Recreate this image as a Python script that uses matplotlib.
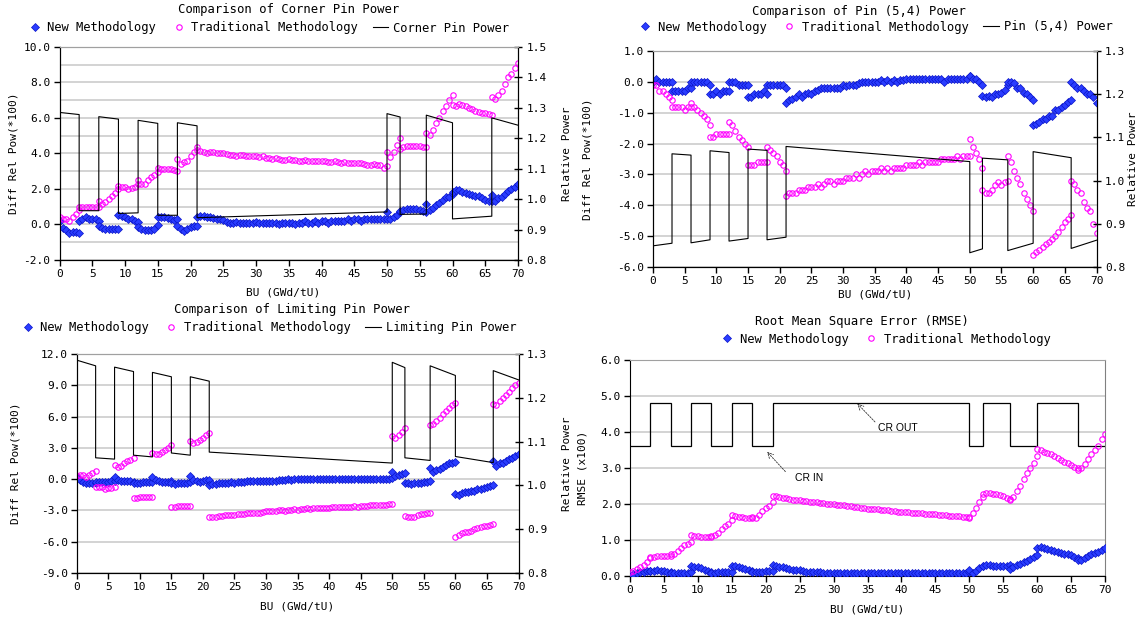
import numpy as np
import matplotlib
matplotlib.use('Agg')
import matplotlib.pyplot as plt
from matplotlib.ticker import MultipleLocator, FormatStrFormatter

plt.rcParams['font.family'] = ['DejaVu Sans Mono']

# burnup segments (control rod moves at each edge)
SEG = [0, 3, 6, 9, 12, 15, 18, 21, 50, 52, 56, 60, 66, 70]
# relative power lines: start / end of every segment
PW_BU = [0, 3, 3, 6, 6, 9, 9, 12, 12, 15, 15, 18, 18, 21, 21, 50,
         50, 52, 52, 56, 56, 60, 60, 66, 66, 70]

# ---- Comparison of Corner Pin Power ----
corner_new = [
    [0.2, -0.2, -0.3, -0.5, -0.4, -0.45, -0.5],
    [0.2, 0.3, 0.4, 0.3, 0.3, 0.3, 0.2],
    [-0.1, -0.2, -0.25, -0.25, -0.25, -0.25, -0.25],
    [0.55, 0.5, 0.4, 0.3, 0.3, 0.2, 0.15],
    [-0.15, -0.25, -0.3, -0.3, -0.3, -0.25, -0.05],
    [0.4, 0.4, 0.4, 0.35, 0.3, 0.25, 0.3],
    [-0.1, -0.25, -0.35, -0.25, -0.15, -0.1, -0.1],
    [0.4, 0.5, 0.5, 0.4, 0.4, 0.35, 0.3, 0.3, 0.25, 0.15,
     0.1, 0.1, 0.15, 0.1, 0.1, 0.1, 0.1, 0.1, 0.15, 0.1,
     0.1, 0.1, 0.1, 0.1, 0.1, 0.0, 0.1, 0.1, 0.1, 0.1,
     0.0, 0.1, 0.1, 0.2, 0.1, 0.1, 0.2, 0.1, 0.2, 0.2,
     0.1, 0.2, 0.2, 0.2, 0.2, 0.2, 0.3, 0.2, 0.3, 0.3,
     0.2, 0.3, 0.3, 0.3, 0.3, 0.3, 0.3, 0.3, 0.3],
    [0.7, 0.3, 0.4, 0.55, 0.7],
    [0.75, 0.8, 0.85, 0.9, 0.9, 0.85, 0.8, 0.75, 0.7],
    [1.15, 0.8, 0.95, 1.1, 1.2, 1.4, 1.55, 1.55, 1.7],
    [1.85, 1.95, 1.95, 1.85, 1.75, 1.7, 1.65, 1.6, 1.6, 1.5, 1.4, 1.35, 1.35],
    [1.65, 1.35, 1.5, 1.55, 1.7, 1.9, 2.0, 2.1, 2.3],
]
corner_trad = [
    [0.4, 0.3, 0.3, 0.2, 0.4, 0.6, 0.8],
    [1.0, 1.0, 1.0, 1.0, 1.0, 1.0, 1.0],
    [1.3, 1.15, 1.25, 1.45, 1.6, 1.8, 2.0],
    [2.15, 2.1, 2.1, 2.0, 2.05, 2.1, 2.3],
    [2.5, 2.3, 2.3, 2.5, 2.65, 2.8, 2.95],
    [3.2, 3.1, 3.1, 3.1, 3.1, 3.05, 3.0],
    [3.7, 3.4, 3.5, 3.6, 3.85, 4.1, 4.2],
    [4.35, 4.15, 4.1, 4.05, 4.1, 4.1, 4.05, 4.05, 4.0, 3.95,
     3.9, 3.9, 3.85, 3.9, 3.9, 3.85, 3.85, 3.85, 3.85, 3.8,
     3.85, 3.75, 3.75, 3.7, 3.75, 3.7, 3.65, 3.65, 3.7, 3.65,
     3.65, 3.6, 3.6, 3.65, 3.6, 3.6, 3.6, 3.6, 3.55, 3.6,
     3.5, 3.5, 3.55, 3.5, 3.45, 3.5, 3.45, 3.45, 3.45, 3.45,
     3.45, 3.4, 3.35, 3.35, 3.4, 3.35, 3.35, 3.2, 3.3],
    [4.1, 3.8, 4.1, 4.5, 4.85],
    [4.25, 4.35, 4.4, 4.4, 4.4, 4.4, 4.4, 4.35, 4.35],
    [5.15, 5.05, 5.35, 5.7, 6.0, 6.4, 6.7, 7.0, 7.3],
    [6.75, 6.7, 6.8, 6.75, 6.65, 6.55, 6.5, 6.4, 6.35, 6.3, 6.3, 6.2, 6.15],
    [7.2, 7.05, 7.3, 7.5, 7.9, 8.3, 8.5, 8.8, 9.1],
]
corner_pw = [1.285, 1.278, 0.962, 0.962, 1.271, 1.263, 0.953, 0.955,
             1.259, 1.249, 0.947, 0.947, 1.251, 1.241, 0.939, 0.958,
             1.281, 1.270, 0.950, 0.951, 1.276, 1.251, 0.935, 0.944,
             1.267, 1.243]

# ---- Comparison of Pin (5,4) Power ----
pin54_new = [
    [0.0, 0.1, 0.0, 0.0, 0.0, 0.0, 0.0],
    [-0.3, -0.3, -0.3, -0.3, -0.3, -0.2, -0.2],
    [0.0, 0.0, 0.0, 0.0, 0.0, 0.0, -0.1],
    [-0.4, -0.4, -0.3, -0.4, -0.3, -0.3, -0.3],
    [0.0, 0.0, 0.0, -0.1, -0.1, -0.1, -0.1],
    [-0.5, -0.5, -0.4, -0.4, -0.4, -0.3, -0.4],
    [-0.1, -0.1, -0.1, -0.1, -0.1, -0.1, -0.2],
    [-0.7, -0.6, -0.55, -0.5, -0.4, -0.5, -0.4, -0.35, -0.4, -0.3,
     -0.25, -0.2, -0.2, -0.2, -0.2, -0.2, -0.2, -0.2, -0.1, -0.15,
     -0.1, -0.1, -0.1, -0.05, 0.0, 0.0, 0.0, 0.0, 0.0, 0.0,
     0.05, 0.0, 0.05, 0.0, 0.05, 0.0, 0.05, 0.05, 0.1, 0.1,
     0.1, 0.1, 0.1, 0.1, 0.1, 0.1, 0.1, 0.1, 0.1, 0.1,
     0.0, 0.1, 0.1, 0.1, 0.1, 0.1, 0.1, 0.1, 0.2],
    [0.2, 0.1, 0.1, 0.0, -0.1],
    [-0.45, -0.5, -0.45, -0.5, -0.4, -0.4, -0.35, -0.25, -0.1],
    [0.0, 0.0, -0.05, -0.2, -0.2, -0.35, -0.4, -0.5, -0.6],
    [-1.4, -1.35, -1.3, -1.2, -1.2, -1.1, -1.1, -0.9, -0.9, -0.8, -0.75, -0.65, -0.6],
    [0.0, -0.1, -0.2, -0.2, -0.3, -0.4, -0.4, -0.5, -0.7],
]
pin54_trad = [
    [-0.1, -0.1, -0.3, -0.3, -0.4, -0.5, -0.6],
    [-0.8, -0.8, -0.8, -0.8, -0.9, -0.8, -0.8],
    [-0.7, -0.8, -0.9, -1.0, -1.1, -1.2, -1.4],
    [-1.8, -1.8, -1.7, -1.7, -1.7, -1.7, -1.7],
    [-1.3, -1.4, -1.6, -1.8, -1.9, -2.0, -2.1],
    [-2.7, -2.7, -2.7, -2.6, -2.6, -2.6, -2.6],
    [-2.1, -2.2, -2.3, -2.4, -2.6, -2.7, -2.9],
    [-3.7, -3.6, -3.6, -3.6, -3.5, -3.5, -3.5, -3.4, -3.4, -3.4,
     -3.3, -3.4, -3.3, -3.2, -3.2, -3.3, -3.2, -3.2, -3.2, -3.1,
     -3.1, -3.1, -3.0, -3.1, -3.0, -2.9, -3.0, -2.9, -2.9, -2.9,
     -2.8, -2.9, -2.8, -2.9, -2.8, -2.8, -2.8, -2.8, -2.7, -2.7,
     -2.7, -2.7, -2.6, -2.7, -2.6, -2.6, -2.6, -2.6, -2.6, -2.5,
     -2.5, -2.5, -2.5, -2.5, -2.4, -2.5, -2.4, -2.4, -2.4],
    [-1.85, -2.1, -2.3, -2.5, -2.8],
    [-3.5, -3.6, -3.6, -3.5, -3.35, -3.25, -3.35, -3.25, -3.2],
    [-2.4, -2.6, -2.9, -3.1, -3.3, -3.6, -3.8, -4.0, -4.2],
    [-5.6, -5.5, -5.45, -5.35, -5.25, -5.2, -5.1, -5.0, -4.85, -4.7, -4.55, -4.45, -4.3],
    [-3.2, -3.3, -3.5, -3.6, -3.9, -4.1, -4.2, -4.6, -4.9],
]
pin54_pw = [0.849, 0.855, 1.062, 1.059, 0.856, 0.863, 1.069, 1.065,
            0.860, 0.866, 1.073, 1.070, 0.863, 0.869, 1.079, 1.044,
            0.833, 0.842, 1.052, 1.048, 0.838, 0.855, 1.067, 1.053,
            0.843, 0.862]

# ---- Comparison of Limiting Pin Power ----
lim_new = [
    [0.2, -0.1, -0.3, -0.4, -0.4, -0.4, -0.4],
    [-0.3, -0.3, -0.3, -0.3, -0.3, -0.2, -0.2],
    [0.2, -0.1, -0.2, -0.2, -0.2, -0.2, -0.3],
    [-0.4, -0.4, -0.4, -0.3, -0.3, -0.3, -0.3],
    [0.2, -0.1, -0.2, -0.3, -0.3, -0.3, -0.2],
    [-0.4, -0.5, -0.4, -0.4, -0.4, -0.4, -0.3],
    [0.3, -0.1, -0.2, -0.3, -0.2, -0.1, -0.1],
    [-0.6, -0.5, -0.45, -0.4, -0.35, -0.4, -0.35, -0.3, -0.35, -0.3,
     -0.25, -0.3, -0.2, -0.2, -0.2, -0.2, -0.2, -0.2, -0.15, -0.2,
     -0.15, -0.15, -0.1, -0.05, -0.05, 0.0, -0.05, 0.0, 0.0, 0.0,
     0.0, 0.05, 0.0, 0.0, 0.05, 0.0, 0.0, 0.05, 0.0, 0.0,
     0.05, 0.0, 0.05, 0.05, 0.05, 0.05, 0.05, 0.0, 0.05, 0.0,
     0.05, 0.05, 0.05, 0.05, 0.05, 0.05, 0.05, 0.05, 0.1],
    [0.7, 0.3, 0.4, 0.5, 0.6],
    [-0.4, -0.4, -0.45, -0.4, -0.4, -0.35, -0.3, -0.3, -0.2],
    [1.1, 0.7, 0.9, 1.0, 1.2, 1.35, 1.5, 1.55, 1.6],
    [-1.4, -1.5, -1.3, -1.25, -1.2, -1.1, -1.1, -0.95, -0.9, -0.85, -0.8, -0.65, -0.6],
    [1.7, 1.3, 1.5, 1.5, 1.7, 1.9, 2.0, 2.2, 2.4],
]
lim_trad = [
    [0.3, 0.4, 0.4, 0.2, 0.4, 0.6, 0.8],
    [-0.8, -0.8, -0.8, -0.9, -0.85, -0.85, -0.8],
    [1.4, 1.2, 1.3, 1.5, 1.7, 1.8, 2.0],
    [-1.8, -1.8, -1.7, -1.7, -1.7, -1.7, -1.7],
    [2.5, 2.4, 2.4, 2.6, 2.8, 3.0, 3.3],
    [-2.7, -2.7, -2.6, -2.6, -2.6, -2.6, -2.6],
    [3.7, 3.5, 3.6, 3.75, 3.9, 4.2, 4.4],
    [-3.65, -3.6, -3.6, -3.5, -3.5, -3.45, -3.4, -3.4, -3.4, -3.35,
     -3.3, -3.3, -3.2, -3.25, -3.2, -3.2, -3.2, -3.15, -3.1, -3.1,
     -3.1, -3.05, -3.0, -3.0, -3.05, -2.95, -2.95, -2.9, -2.95, -2.9,
     -2.85, -2.8, -2.85, -2.8, -2.8, -2.75, -2.8, -2.75, -2.75, -2.7,
     -2.7, -2.7, -2.65, -2.7, -2.65, -2.65, -2.6, -2.65, -2.6, -2.6,
     -2.55, -2.5, -2.5, -2.5, -2.45, -2.5, -2.45, -2.4, -2.4],
    [4.1, 3.9, 4.2, 4.5, 4.9],
    [-3.5, -3.6, -3.65, -3.6, -3.45, -3.35, -3.3, -3.25, -3.2],
    [5.2, 5.3, 5.6, 5.9, 6.2, 6.5, 6.8, 7.1, 7.3],
    [-5.5, -5.4, -5.2, -5.1, -5.1, -5.0, -4.8, -4.7, -4.6, -4.5, -4.45, -4.4, -4.3],
    [7.2, 7.1, 7.5, 7.8, 8.1, 8.4, 8.7, 9.0, 9.2],
]
lim_pw = [1.286, 1.273, 1.063, 1.060, 1.270, 1.260, 1.069, 1.065,
          1.258, 1.248, 1.074, 1.069, 1.248, 1.238, 1.076, 1.051,
          1.281, 1.269, 1.063, 1.057, 1.273, 1.251, 1.066, 1.052,
          1.262, 1.241]

# ---- Root Mean Square Error ----
rmse_new = [
    [0.03, 0.06, 0.08, 0.1, 0.12, 0.13, 0.14],
    [0.15, 0.15, 0.16, 0.15, 0.14, 0.12, 0.12],
    [0.08, 0.07, 0.08, 0.08, 0.09, 0.09, 0.1],
    [0.27, 0.25, 0.24, 0.21, 0.18, 0.15, 0.12],
    [0.07, 0.08, 0.1, 0.1, 0.1, 0.1, 0.1],
    [0.28, 0.27, 0.25, 0.23, 0.2, 0.16, 0.13],
    [0.1, 0.1, 0.11, 0.12, 0.13, 0.13, 0.14],
    [0.3, 0.28, 0.26, 0.24, 0.22, 0.2, 0.18, 0.17, 0.16, 0.14,
     0.12, 0.11, 0.11, 0.1, 0.1, 0.09, 0.09, 0.08, 0.08, 0.08,
     0.07, 0.07, 0.07, 0.07, 0.07, 0.07, 0.07, 0.07, 0.07, 0.07,
     0.07, 0.07, 0.07, 0.07, 0.07, 0.07, 0.07, 0.07, 0.07, 0.07,
     0.07, 0.07, 0.07, 0.08, 0.08, 0.08, 0.08, 0.08, 0.08, 0.08,
     0.08, 0.08, 0.08, 0.08, 0.08, 0.09, 0.09, 0.09, 0.1],
    [0.18, 0.07, 0.15, 0.22, 0.27],
    [0.28, 0.3, 0.3, 0.29, 0.28, 0.27, 0.27, 0.28, 0.3],
    [0.2, 0.24, 0.3, 0.34, 0.38, 0.43, 0.48, 0.52, 0.57],
    [0.78, 0.8, 0.78, 0.75, 0.72, 0.7, 0.67, 0.64, 0.62, 0.6, 0.57, 0.54, 0.5],
    [0.45, 0.45, 0.5, 0.55, 0.6, 0.64, 0.68, 0.73, 0.78],
]
rmse_trad = [
    [0.1, 0.15, 0.2, 0.25, 0.3, 0.4, 0.5],
    [0.53, 0.54, 0.55, 0.55, 0.55, 0.55, 0.55],
    [0.6, 0.62, 0.7, 0.78, 0.85, 0.9, 0.95],
    [1.13, 1.12, 1.1, 1.08, 1.08, 1.07, 1.08],
    [1.1, 1.15, 1.2, 1.3, 1.4, 1.45, 1.55],
    [1.7, 1.68, 1.65, 1.63, 1.6, 1.6, 1.6],
    [1.65, 1.6, 1.7, 1.8, 1.9, 1.95, 2.05],
    [2.23, 2.21, 2.19, 2.17, 2.16, 2.14, 2.12, 2.11, 2.1, 2.08,
     2.07, 2.06, 2.05, 2.05, 2.04, 2.02, 2.01, 2.0, 1.99, 1.98,
     1.97, 1.96, 1.95, 1.94, 1.93, 1.92, 1.9, 1.88, 1.87, 1.86,
     1.86, 1.85, 1.84, 1.83, 1.82, 1.81, 1.8, 1.79, 1.79, 1.78,
     1.77, 1.76, 1.75, 1.75, 1.74, 1.73, 1.73, 1.72, 1.71, 1.7,
     1.69, 1.69, 1.68, 1.67, 1.67, 1.66, 1.65, 1.64, 1.62],
    [1.65, 1.75, 1.88, 2.05, 2.2],
    [2.28, 2.3, 2.3, 2.29, 2.27, 2.24, 2.22, 2.18, 2.12],
    [2.15, 2.2, 2.35, 2.5, 2.7, 2.85, 3.0, 3.15, 3.33],
    [3.52, 3.5, 3.45, 3.42, 3.38, 3.32, 3.28, 3.22, 3.18, 3.13, 3.08, 3.03, 2.95],
    [3.0, 3.0, 3.12, 3.25, 3.38, 3.5, 3.62, 3.8, 3.95],
]
# control rod position drawn in the RMSE plot
cr_level = [3.6, 4.8, 3.6, 4.8, 3.6, 4.8, 3.6, 4.8, 3.6, 4.8, 3.6, 4.8, 3.6]

BLUE = '#2a3dff'
BLUE_EDGE = '#0a14c8'
MAG = '#ff00ff'
GRID = '#c8c8c8'
W, H = 1140, 619


def flatten(series):
    xs, ys = [], []
    for (a, b), vals in zip(zip(SEG[:-1], SEG[1:]), series):
        xs.append(np.linspace(a, b, len(vals)))
        ys.append(np.asarray(vals, dtype=float))
    return np.concatenate(xs), np.concatenate(ys)


def fx(px):
    return px / W


def fy(py):
    return 1 - py / H


def style_axis(ax, ylim, major, minor):
    ax.set_xlim(0, 70)
    ax.set_ylim(*ylim)
    ax.xaxis.set_major_locator(MultipleLocator(5))
    ax.yaxis.set_major_locator(MultipleLocator(major))
    ax.yaxis.set_minor_locator(MultipleLocator(minor))
    ax.yaxis.set_major_formatter(FormatStrFormatter('%.1f'))
    ax.grid(True, axis='y', which='both', color=GRID, lw=1.1)
    ax.set_axisbelow(True)
    ax.tick_params(axis='both', which='major', direction='out', length=4,
                   width=1, labelsize=8, pad=2.5)
    ax.tick_params(axis='y', which='minor', length=0)
    for s in ['left', 'bottom', 'right']:
        ax.spines[s].set_color('black')
    ax.spines['top'].set_color('#a0a0a0')
    ax.set_xlabel('BU (GWd/tU)', fontsize=8)


def scatter(ax, new, trad):
    x, y = flatten(new)
    hn, = ax.plot(x, y, ls='none', marker='D', ms=3.8, mfc=BLUE,
                  mec=BLUE_EDGE, mew=0.5, zorder=3)
    x, y = flatten(trad)
    ht, = ax.plot(x, y, ls='none', marker='o', ms=3.9, mfc='none',
                  mec=MAG, mew=0.8, zorder=3)
    return hn, ht


def power_axis(ax, pw, top):
    axr = ax.twinx()
    axr.set_ylim(0.8, top)
    axr.yaxis.set_major_locator(MultipleLocator(0.1))
    axr.yaxis.set_major_formatter(FormatStrFormatter('%.1f'))
    axr.tick_params(axis='y', direction='inout', length=6, width=1,
                    labelsize=8, pad=3)
    axr.spines['top'].set_color('#a0a0a0')
    hl, = axr.plot(PW_BU, pw, color='black', lw=0.8)
    axr.set_ylabel('Relative Power', fontsize=8)
    return axr, hl


def legend(handles, labels, cx, cy):
    fig.legend(handles, labels, loc='center', bbox_to_anchor=(fx(cx), fy(cy)),
               ncol=len(handles), frameon=False, fontsize=8.7,
               handlelength=1.3, handletextpad=0.4, columnspacing=1.2,
               borderpad=0, borderaxespad=0)


fig = plt.figure(figsize=(W / 100, H / 100), dpi=100)

ax1 = fig.add_axes([fx(59.5), fy(260), 458.5 / W, 213 / H])
ax2 = fig.add_axes([fx(653), fy(267), 443.5 / W, 216 / H])
ax3 = fig.add_axes([fx(76.7), fy(573), 441.8 / W, 219 / H])
ax4 = fig.add_axes([fx(630), fy(576), 475 / W, 216 / H])

# corner pin
style_axis(ax1, (-2, 10), 2, 1)
hn, ht = scatter(ax1, corner_new, corner_trad)
axr1, hl = power_axis(ax1, corner_pw, 1.5)
ax1.set_ylabel('Diff Rel Pow(*100)', fontsize=8)
ax1.yaxis.set_label_coords(-0.09, 0.5)
axr1.yaxis.set_label_coords(1.095, 0.5)
ax1.xaxis.set_label_coords(0.487, -0.127)
fig.text(fx(289), fy(10), 'Comparison of Corner Pin Power', ha='center',
         va='center', fontsize=8.8)
legend([hn, ht, hl], ['New Methodology', 'Traditional Methodology',
                      'Corner Pin Power'], 268, 28)

# pin (5,4)
style_axis(ax2, (-6, 1), 1, 1)
hn, ht = scatter(ax2, pin54_new, pin54_trad)
axr2, hl = power_axis(ax2, pin54_pw, 1.3)
ax2.set_ylabel('Diff Rel Pow(*100)', fontsize=8)
ax2.yaxis.set_label_coords(-0.1375, 0.5)
axr2.yaxis.set_label_coords(1.072, 0.5)
ax2.xaxis.set_label_coords(0.5, -0.106)
fig.text(fx(859), fy(11), 'Comparison of Pin (5,4) Power', ha='center',
         va='center', fontsize=8.8)
legend([hn, ht, hl], ['New Methodology', 'Traditional Methodology',
                      'Pin (5,4) Power'], 875, 27)

# limiting pin
style_axis(ax3, (-9, 12), 3, 3)
hn, ht = scatter(ax3, lim_new, lim_trad)
axr3, hl = power_axis(ax3, lim_pw, 1.3)
ax3.set_ylabel('Diff Rel Pow(*100)', fontsize=8)
ax3.yaxis.set_label_coords(-0.128, 0.5)
axr3.yaxis.set_label_coords(1.098, 0.5)
ax3.xaxis.set_label_coords(0.5, -0.128)
fig.text(fx(292), fy(309), 'Comparison of Limiting Pin Power', ha='center',
         va='center', fontsize=8.8)
legend([hn, ht, hl], ['New Methodology', 'Traditional Methodology',
                      'Limiting Pin Power'], 268, 328)

# RMSE
style_axis(ax4, (0, 6), 1, 1)
ax4.spines['right'].set_color('#808080')
hn, ht = scatter(ax4, rmse_new, rmse_trad)
ax4.stairs(cr_level, SEG, baseline=None, color='black', lw=0.9, zorder=2)
ax4.set_ylabel('RMSE (x100)', fontsize=8)
ax4.yaxis.set_label_coords(-0.09, 0.5)
ax4.xaxis.set_label_coords(0.5, -0.13)
arrow = dict(arrowstyle='->', lw=0.6, color='#333333', linestyle=(0, (2, 1.5)),
             shrinkA=0, shrinkB=0)
ax4.annotate('', xy=(33.5, 4.79), xytext=(36.1, 4.28), arrowprops=arrow)
ax4.text(39.4, 4.1, 'CR OUT', family='Liberation Sans', fontsize=7.5,
         ha='center', va='center')
ax4.annotate('', xy=(20.2, 3.45), xytext=(22.9, 2.9), arrowprops=arrow)
ax4.text(26.4, 2.71, 'CR IN', family='Liberation Sans', fontsize=7.5,
         ha='center', va='center')
fig.text(fx(862), fy(321), 'Root Mean Square Error (RMSE)', ha='center',
         va='center', fontsize=8.8)
legend([hn, ht], ['New Methodology', 'Traditional Methodology'], 885, 339)

fig.savefig('out.png', dpi=100)
